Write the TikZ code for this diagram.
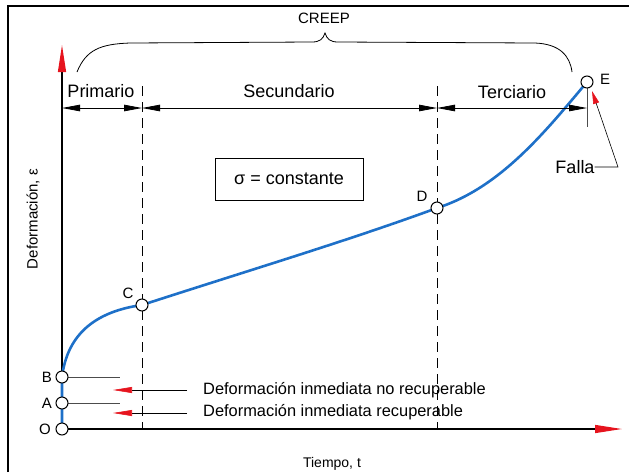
\documentclass[tikz,border=0pt]{standalone}
\usepackage{fontspec}
\setmainfont{Liberation Sans}
\usetikzlibrary{arrows.meta}
\pgfdeclarelayer{bg}
\pgfsetlayers{bg,main}
\definecolor{curveblue}{RGB}{30,112,200}
\definecolor{arrred}{RGB}{230,20,30}
\begin{document}
\begin{tikzpicture}[x=1pt,y=-1pt,
  pt/.style={circle,draw=black,fill=white,line width=1pt,minimum size=12pt,inner sep=0pt},
  lbl/.style={font=\fontsize{15}{17}\selectfont,inner sep=0pt},
  seg/.style={font=\fontsize{18}{20}\selectfont,inner sep=0pt},
  note/.style={font=\fontsize{16.4}{18}\selectfont,inner sep=0pt},
  dimline/.style={line width=0.8pt,{Triangle[length=18pt,width=6.5pt]}-{Triangle[length=18pt,width=6.5pt]}},
  axisline/.style={line width=1.3pt,-{Triangle[length=27pt,width=8pt,color=arrred]}},
  redarrow/.style={line width=0.6pt,-{Triangle[length=19pt,width=6pt,color=arrred]}},
  guide/.style={line width=0.8pt,dash pattern=on 10pt off 6pt},
  thin/.style={line width=0.6pt,draw=black!70},
  creep/.style={line width=2.6pt,draw=curveblue}
]
\useasboundingbox (0,0) rectangle (629,472);
% frame
\draw[line width=1.8pt] (8,472) -- (8,6) -- (629,6);

% points
\node[pt] (O) at (62,429) {};
\node[pt] (A) at (62,403) {};
\node[pt] (B) at (62,377) {};
\node[pt] (C) at (142,305) {};
\node[pt] (D) at (437,208) {};
\node[pt] (E) at (587,82) {};

% point labels
\node[lbl] (lO) at (45,429) {O};
\node[lbl] (lA) at (47,403) {A};
\node[lbl] (lB) at (47,377) {B};
\node[lbl] (lC) at (128,293) {C};
\node[lbl] (lD) at (422,196) {D};
\node[lbl] (lE) at (605,79) {E};

% coordinates
\coordinate (Ytip) at (62,45);
\coordinate (Xtip) at (622,429);
\coordinate (Ctop) at (142,86);
\coordinate (Cbot) at (142,429);
\coordinate (Dtop) at (437,86);
\coordinate (Dbot) at (437,429);
\coordinate (L0) at (62,108);
\coordinate (L1) at (142,108);
\coordinate (L2) at (437,108);
\coordinate (L3) at (587,108);
\coordinate (Etick) at (587,127);
\coordinate (Bend) at (120,377);
\coordinate (Aend) at (120,403);
\coordinate (R1s) at (187,390);
\coordinate (R1t) at (113,390);
\coordinate (R2s) at (187,413);
\coordinate (R2t) at (113,413);
\coordinate (F1) at (618,167);
\coordinate (Ftip) at (592,91);

\begin{pgfonlayer}{bg}
  % axes
  \draw[axisline] (O.center) -- (Ytip);
  \draw[axisline] (O.center) -- (Xtip);
  % dashed guides
  \draw[guide] (Ctop) -- (Cbot);
  \draw[guide] (Dtop) -- (Dbot);
  % creep curve
  \draw[creep] (O.center) -- (B.center)
     .. controls (67,337) and (92,312) .. (C.center)
     .. controls (250,270) and (350,240) .. (D.center)
     .. controls (500,188) and (545,132) .. (E.center);
  % E tick
  \draw[thin] (E.center) -- (Etick);
  % B, A guides
  \draw[thin] (B.center) -- (Bend);
  \draw[thin] (A.center) -- (Aend);
\end{pgfonlayer}

% dimension lines
\draw[dimline] (L0) -- (L1);
\draw[dimline] (L1) -- (L2);
\draw[dimline] (L2) -- (L3);
\node[seg] (prim) at (101,91) {Primario};
\node[seg] (secu) at (289,91) {Secundario};
\node[seg] (terc) at (512,92) {Terciario};

% brace
\draw[line width=0.8pt] (77,72) .. controls (86,50) and (100,44) .. (130,43)
   -- (312,42) .. controls (320,42) and (323,39) .. (325,33)
   .. controls (327,39) and (330,42) .. (338,42)
   -- (535,43) .. controls (560,44) and (570,56) .. (572,72);
\node[lbl] (creeplbl) at (324,18) {CREEP};

% sigma box
\node[draw,line width=1pt,minimum width=148pt,minimum height=42pt,
      font=\fontsize{18}{20}\selectfont] (box) at (289,179) {σ = constante};

% deformation notes
\node[note,anchor=west] (t1) at (203,390) {Deformación inmediata no recuperable};
\node[note,anchor=west] (t2) at (203,412) {Deformación inmediata recuperable};
\draw[redarrow] (R1s) -- (R1t);
\draw[redarrow] (R2s) -- (R2t);

% falla
\node[seg] (falla) at (575,167) {Falla};
\draw[line width=0.6pt,-{Triangle[length=13pt,width=6pt,color=arrred]}]
   (falla.east) -- (F1) -- (Ftip);

% axis labels
\node[lbl,rotate=90] (ylab) at (33,219) {Deformación, ε};
\node[font=\fontsize{14}{16}\selectfont,inner sep=0pt] (xlab) at (332,464) {Tiempo, t};
\end{tikzpicture}
\end{document}
